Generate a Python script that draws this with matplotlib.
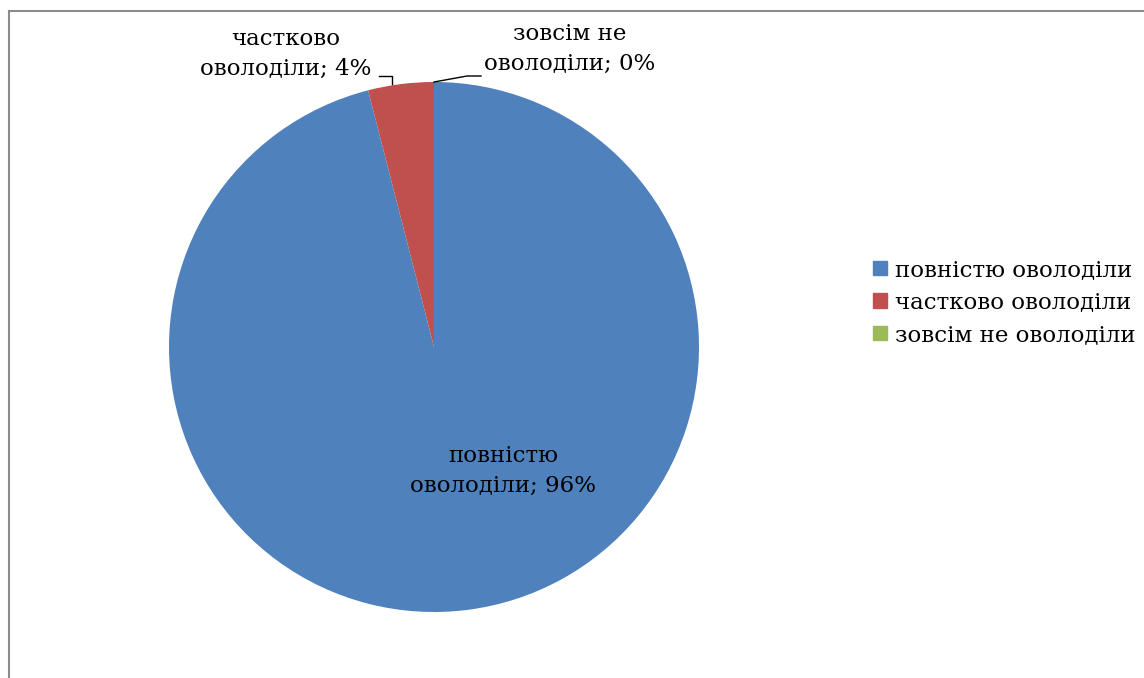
import numpy as np
import matplotlib.pyplot as plt
from matplotlib.lines import Line2D

# Data
categories = ['повністю оволоділи', 'частково оволоділи', 'зовсім не оволоділи']
label_texts = ['повністю\nоволоділи; 96%', 'частково\nоволоділи; 4%', 'зовсім не\nоволоділи; 0%']
shares = [96, 4, 0]
colors = ['#4F81BD', '#C0504D', '#9BBB59']

plt.rcParams['font.family'] = ['DejaVu Serif']
fsize = 16.5

fw, fh = 11.44, 6.78
fig = plt.figure(figsize=(fw, fh), dpi=100)
W, H = fw * 100, fh * 100

# pie centre (434, 347) px, radius 265 px
cx, cy, r = 434, 347, 265
ax = fig.add_axes([(cx - r) / W, (H - cy - r) / H, 2 * r / W, 2 * r / H])
wedges, _ = ax.pie(shares, colors=colors, startangle=90, counterclock=False,
                   radius=1, wedgeprops=dict(linewidth=0))
ax.set_xlim(-1, 1)
ax.set_ylim(-1, 1)
ax.set_aspect('equal')
ax.axis('off')

def px(x, y):
    # pixel position -> data coords of the pie axes
    return (x - cx) / r, (cy - y) / r

lab_pos = [(503, 471), (286, 54), (570, 49)]
for txt, (x, y) in zip(label_texts, lab_pos):
    dx, dy = px(x, y)
    ax.text(dx, dy, txt, ha='center', va='center', fontsize=fsize,
            linespacing=1.45, color='black')

# leader lines
pts = [px(379, 76), px(392, 76), px(392, 84)]
ax.plot([p[0] for p in pts], [p[1] for p in pts], color='black', lw=1, clip_on=False)
pts = [px(434, 82), px(467, 76), px(481, 76)]
ax.plot([p[0] for p in pts], [p[1] for p in pts], color='black', lw=1, clip_on=False)

# chart frame (only left and top visible)
fig.add_artist(Line2D([9 / W, 9 / W], [0, 1 - 10.5 / H], color='#8c8c8c', lw=1.5))
fig.add_artist(Line2D([9 / W, 1], [1 - 10.5 / H, 1 - 10.5 / H], color='#8c8c8c', lw=1.5))

handles = [plt.Rectangle((0, 0), 1, 1, color=c) for c in colors]
fig.legend(handles, categories, loc='center left',
           bbox_to_anchor=(864 / W, 1 - 302.5 / H), frameon=False,
           fontsize=fsize, handlelength=0.6, handleheight=0.6,
           handletextpad=0.35, labelspacing=0.46, borderaxespad=0)

plt.savefig('out.png', dpi=100)
